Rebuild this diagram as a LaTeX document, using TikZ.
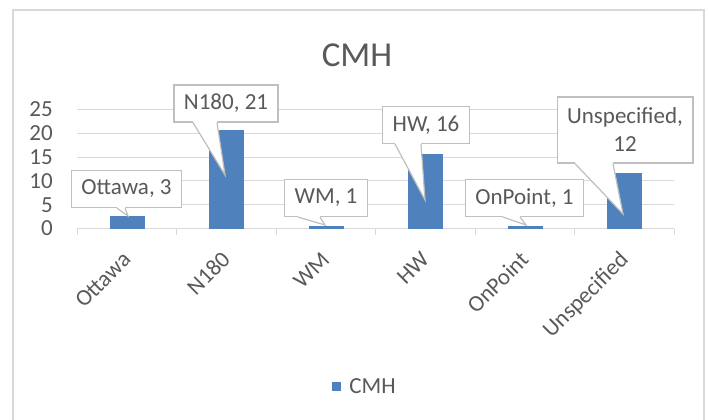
\documentclass[tikz,border=0pt]{standalone}
\usepackage{fontspec}
\setmainfont{Carlito}
\usetikzlibrary{calc,positioning}
\definecolor{txt}{RGB}{89,89,89}
\definecolor{gridc}{RGB}{217,217,217}
\definecolor{barc}{RGB}{79,129,189}
\definecolor{edgec}{RGB}{191,191,191}
% wedge pointer under a callout: node, left and right offset on its bottom edge, tip
\newcommand{\wedgeptr}[4]{%
  \fill[white] ($(#1.south)+(#2,-2)$) -- ($(#1.south)+(#2,0)$) -- (#4)
    -- ($(#1.south)+(#3,0)$) -- ($(#1.south)+(#3,-2)$) -- cycle;
  \draw[edgec,line width=1.2pt] ($(#1.south)+(#2,0)$) -- (#4) -- ($(#1.south)+(#3,0)$);}

\begin{document}
\begin{tikzpicture}[x=1pt,y=-1pt,font=\fontsize{23}{28}\selectfont,
  every node/.style={text=txt},
  callout/.style={draw=edgec,line width=1.2pt,fill=white,inner xsep=10pt,inner ysep=0pt,
    minimum height=37pt,align=center},
  catlabel/.style={rotate=45,anchor=base east,inner sep=0pt},
  barbox/.style={fill=barc,inner sep=0pt,outer sep=0pt,minimum width=35pt,anchor=south}]
  \useasboundingbox (0,0) rectangle (709,420);
  \draw[gridc,line width=2pt] (13,430) -- (13,10) -- (704,10) -- (704,430);
  \node[font=\fontsize{35}{42}\selectfont] (title) at (357,55) {CMH};
  % value grid and axis
  \foreach \v in {0,5,...,25} {
    \draw[gridc,line width=1pt] (77,228.5-4.76*\v) -- (674,228.5-4.76*\v);
    \node[anchor=east,inner sep=0pt] (y\v) at (53,228.5-4.76*\v) {\v};
  }
  \foreach \i in {0,...,6}
    \draw[gridc,line width=1pt] (77+99.5*\i,228.5) -- (77+99.5*\i,235);
  % bars and categories
  \foreach \name/\cx/\val/\txt in {Ott/127/2.6/Ottawa,N/226.5/20.6/N180,WM/326/0.5/WM,
      HW/425.5/15.6/HW,OP/525/0.5/OnPoint,Un/624.5/11.6/Unspecified} {
    \node[barbox,minimum height=4.76*\val] (bar\name) at (\cx,228.5) {};
    \node[catlabel] (cat\name) at (\cx+5,261) {\txt};
  }
  % data callouts
  \node[callout] (lblOtt) at (126.5,189) {Ottawa, 3};
  \node[callout] (lblN) at (226,103.5) {N180, 21};
  \node[callout] (lblWM) at (326,198) {WM, 1};
  \node[callout] (lblHW) at (426,125) {HW, 16};
  \node[callout] (lblOP) at (524.5,198) {OnPoint, 1};
  \node[callout,minimum height=66pt] (lblUn) at (625,130) {Unspecified,\\12};
  \coordinate (tipOtt) at (128,216);
  \coordinate (tipN) at (225,175);
  \coordinate (tipWM) at (325,225);
  \coordinate (tipHW) at (425,200);
  \coordinate (tipOP) at (526,225);
  \coordinate (tipUn) at (623,214);
  \wedgeptr{lblOtt}{-9.5}{-1.5}{tipOtt}
  \wedgeptr{lblN}{-33}{-9}{tipN}
  \wedgeptr{lblWM}{-28}{-6}{tipWM}
  \wedgeptr{lblHW}{-31}{-5}{tipHW}
  \wedgeptr{lblOP}{-21.5}{-4.5}{tipOP}
  \wedgeptr{lblUn}{-50}{-12}{tipUn}
  % legend
  \node[fill=barc,inner sep=0pt,minimum size=9pt] (legkey) at (336.5,386.5) {};
  \node[right=8pt of legkey,inner sep=0pt] (legtxt) {CMH};
\end{tikzpicture}
\end{document}
